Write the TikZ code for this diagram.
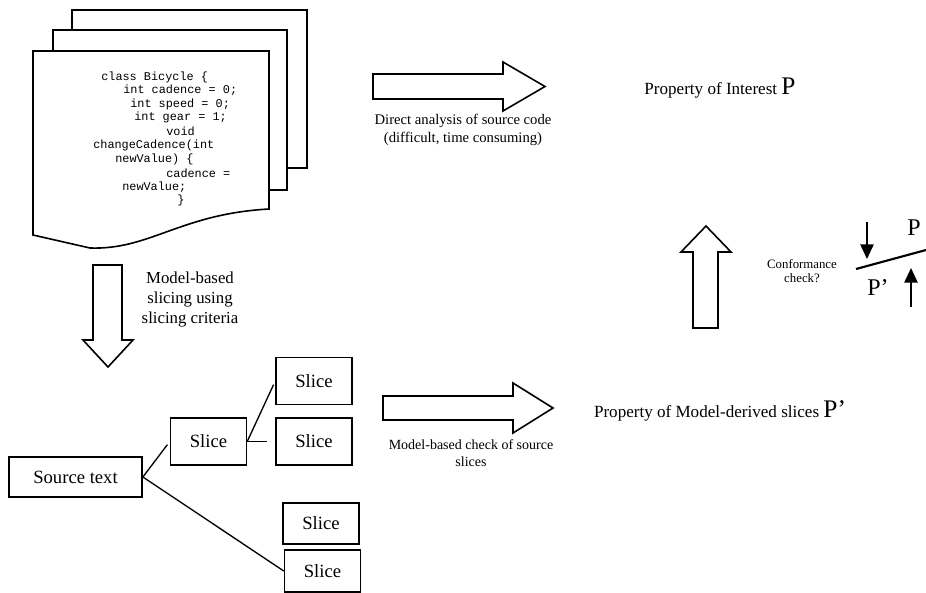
\documentclass[tikz,border=0pt]{standalone}
\usepackage{fontspec}
\setmainfont{Liberation Serif}
\setmonofont{Liberation Mono}
\usetikzlibrary{arrows.meta}

\tikzset{
  page/.style={draw, fill=white, line width=1.2pt},
  blockarrow/.style={draw, fill=white, line width=1.2pt, line join=miter},
  slicebox/.style={draw, line width=1.1pt, minimum width=57pt, minimum height=35.5pt,
                   font=\fontsize{14}{16}\selectfont},
  codeline/.style={anchor=west, inner sep=0pt, font=\ttfamily\fontsize{8.9}{10}\selectfont},
  caption/.style={align=center, inner sep=0pt},
  link/.style={line width=1pt},
}

\begin{document}
\begin{tikzpicture}[x=0.75pt, y=-0.75pt]
        \useasboundingbox (0,0) rectangle (926,593);

        % stack of source pages
        \draw[page] (72,10) rectangle (307,168);
        \draw[page] (53,30) rectangle (287,190);
        \draw[page] (33,51) -- (269,51) -- (269,209)
              .. controls (180,214) and (150,250) .. (90,248) -- (33,235) -- cycle;

        \node[codeline] (c1)  at (101,77)  {class Bicycle \{};
        \node[codeline] (c2)  at (123,90)  {int cadence = 0;};
        \node[codeline] (c3)  at (130,104) {int speed = 0;};
        \node[codeline] (c4)  at (134,117) {int gear = 1;};
        \node[codeline] (c5)  at (166,131) {void};
        \node[codeline] (c6)  at (93,145)  {changeCadence(int};
        \node[codeline] (c7)  at (115,159) {newValue) \{};
        \node[codeline] (c8)  at (166,173) {cadence =};
        \node[codeline] (c9)  at (122,187) {newValue;};
        \node[codeline] (c10) at (177,200) {\}};

        % direct analysis
        \draw[blockarrow] (373,74) -- (503,74) -- (503,62) -- (545,86.5)
              -- (503,111) -- (503,99) -- (373,99) -- cycle;
        \node[caption, font=\fontsize{11}{13.5}\selectfont] (direct) at (463,130)
              {Direct analysis of source code\\(difficult, time consuming)};
        \node[inner sep=0pt, font=\fontsize{12.8}{15}\selectfont] (prop) at (720,88)
              {Property of Interest {\fontsize{19}{20}\selectfont P}};

        % slicing
        \draw[blockarrow] (93,265) -- (122,265) -- (122,340) -- (133,340) -- (108,367)
              -- (83,340) -- (93,340) -- cycle;
        \node[caption, font=\fontsize{12.6}{15}\selectfont] (slicing) at (190,299)
              {Model-based\\slicing using\\slicing criteria};

        \node[slicebox, minimum width=100pt, minimum height=30pt] (src) at (75.5,477) {Source text};
        \node[slicebox] (mid) at (208.5,441.5) {Slice};
        \node[slicebox] (s1) at (314,381) {Slice};
        \node[slicebox] (s2) at (314,441.5) {Slice};
        \node[slicebox, minimum height=31pt] (s3) at (321,523.5) {Slice};
        \node[slicebox, minimum height=31.5pt] (s4) at (322.5,571) {Slice};

        \draw[link, shorten >=3pt] (src.east) -- (mid.west);
        \draw[link] (src.east) -- (s4.west);
        \draw[link, shorten >=3pt] (mid.east) -- (s1.west);
        \draw[link, shorten >=6pt] (mid.east) -- (s2.west);

        % check of slices
        \draw[blockarrow] (383,396) -- (513,396) -- (513,383) -- (553,408)
              -- (513,433) -- (513,420) -- (383,420) -- cycle;
        \node[caption, font=\fontsize{10.5}{13}\selectfont] (check) at (471,453)
              {Model-based check of source\\slices};
        \node[inner sep=0pt, font=\fontsize{12.8}{15}\selectfont] (derived) at (720,411)
              {Property of Model-derived slices {\fontsize{19}{20}\selectfont P'}};

        % conformance
        \draw[blockarrow] (693,328) -- (693,252) -- (681,252) -- (706,226)
              -- (731,252) -- (718,252) -- (718,328) -- cycle;
        \node[caption, font=\fontsize{9.6}{10}\selectfont] (conf) at (802,271)
              {Conformance\\check?};

        \coordinate (bar1) at (856,269);
        \coordinate (bar2) at (926,250);
        \draw[line width=1.6pt] (bar1) -- (bar2);
        \node[inner sep=0pt, font=\fontsize{18}{20}\selectfont] (pt) at (914,228) {P};
        \node[inner sep=0pt, font=\fontsize{18}{20}\selectfont] (pd) at (878,288) {P'};
        \coordinate (dn1) at (867,222);
        \coordinate (dn2) at (867,259);
        \coordinate (up1) at (911,307);
        \coordinate (up2) at (911,268);
        \draw[line width=1.2pt, -{Triangle[length=11pt, width=10pt]}] (dn1) -- (dn2);
        \draw[line width=1.2pt, -{Triangle[length=11pt, width=10pt]}] (up1) -- (up2);

    \end{tikzpicture}
\end{document}
